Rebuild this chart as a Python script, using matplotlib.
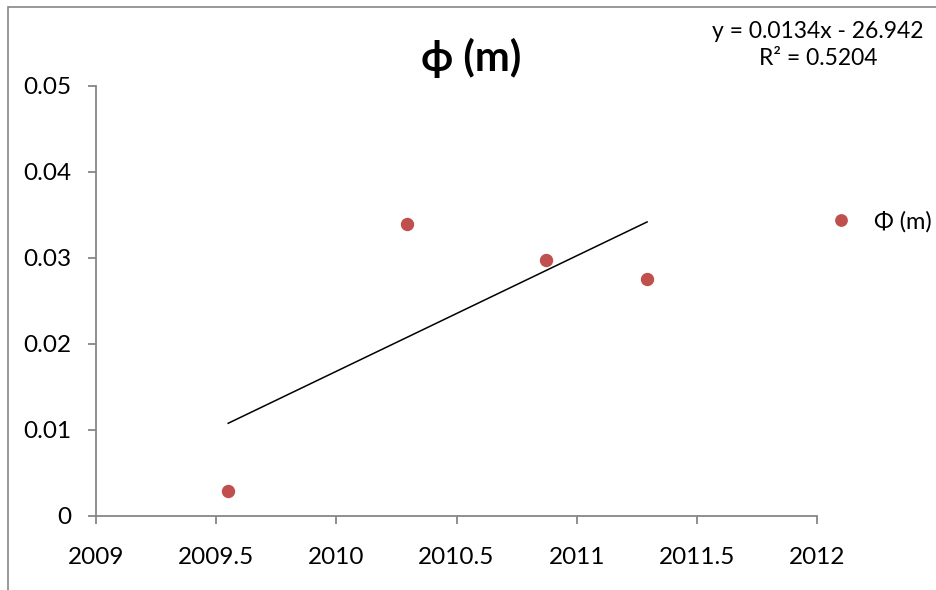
import matplotlib
matplotlib.use("Agg")
import matplotlib.pyplot as plt
import numpy as np
from matplotlib.patches import Rectangle

# Data
years = [2009.55, 2010.294, 2010.873, 2011.293]
phi_m = [0.0029, 0.0340, 0.0298, 0.0276]
x_ticks = [2009, 2009.5, 2010, 2010.5, 2011, 2011.5, 2012]
x_tick_labels = ["2009", "2009.5", "2010", "2010.5", "2011", "2011.5", "2012"]
y_ticks = [0, 0.01, 0.02, 0.03, 0.04, 0.05]
y_tick_labels = ["0", "0.01", "0.02", "0.03", "0.04", "0.05"]
title = "ϕ (m)"
legend_label = "Φ (m)"
eq_text = "y = 0.0134x - 26.942\nR² = 0.5204"

plt.rcParams['font.family'] = ['Lato', 'DejaVu Sans']

W, H = 936, 590
fig = plt.figure(figsize=(W / 100, H / 100), dpi=100)
ax = fig.add_axes([96 / W, 1 - 516 / H, (817 - 96) / W, (516 - 86) / H])

grey = "#868686"
red = "#C0504D"

# chart border (partially outside)
fig.patches.append(Rectangle((8 / W, -0.05), 1.2, 1 - 7 / H + 0.05, transform=fig.transFigure,
                             fill=False, edgecolor=grey, linewidth=1.2))

sc, = ax.plot(years, phi_m, 'o', color=red, markersize=8.6, label=legend_label, zorder=3)

# linear trendline
coef = np.polyfit(years, phi_m, 1)
xs = np.array([min(years), max(years)])
ax.plot(xs, np.polyval(coef, xs), color='black', linewidth=1.1, zorder=2)

ax.set_xlim(2009, 2012)
ax.set_ylim(0, 0.05)
ax.set_xticks(x_ticks)
ax.set_xticklabels(x_tick_labels)
ax.set_yticks(y_ticks)
ax.set_yticklabels(y_tick_labels)

for s in ['top', 'right']:
    ax.spines[s].set_visible(False)
for s in ['left', 'bottom']:
    ax.spines[s].set_color(grey)
    ax.spines[s].set_linewidth(1.3)
ax.tick_params(axis='both', colors=grey, labelcolor='black', labelsize=17.5,
               length=6, width=1.3, direction='out')
ax.tick_params(axis='y', pad=12)
ax.tick_params(axis='x', pad=16)

fig.text(471 / W, 1 - 58 / H, title, ha='center', va='center', fontsize=30, fontweight='bold')
fig.text(818 / W, 1 - 45 / H, eq_text, ha='center', va='center', fontsize=16.5,
         linespacing=1.3, multialignment='center')

ax.legend(handles=[sc], loc='center left', bbox_to_anchor=(829 / W, 1 - 222 / H),
          bbox_transform=fig.transFigure, frameon=False, fontsize=17,
          handlelength=1.0, handletextpad=0.9, borderaxespad=0, borderpad=0, markerscale=0.95)

fig.savefig("out.png", dpi=100)
